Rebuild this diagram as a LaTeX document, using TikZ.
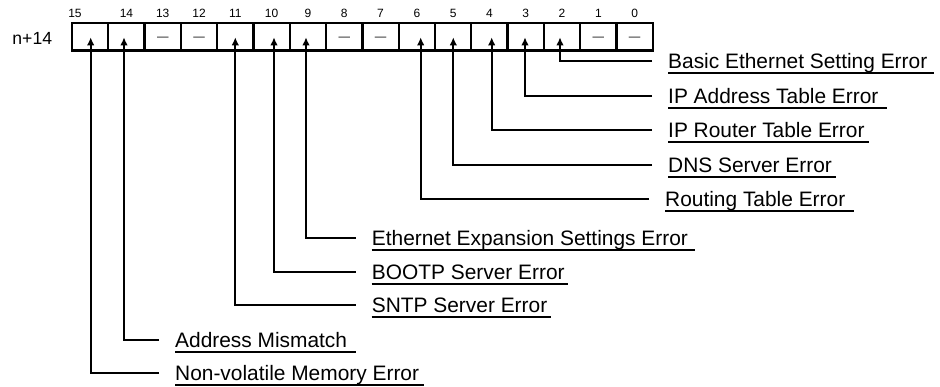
\documentclass[tikz,border=0pt]{standalone}
\usepackage{fontspec}
\setmainfont{Liberation Sans}
\usetikzlibrary{arrows.meta}
\begin{document}
\begin{tikzpicture}[x=1pt,y=-1pt,
  bitbox/.style={draw, line width=2.3pt, minimum width=36.3pt, minimum height=27.5pt, inner sep=0pt, outer sep=0pt},
  bitnum/.style={font=\fontsize{12}{14}\selectfont, inner sep=0pt, anchor=base},
  nodash/.style={font=\fontsize{11.5}{13}\selectfont, inner sep=0pt, anchor=center},
  reglab/.style={font=\fontsize{17.6}{20}\selectfont, inner sep=0pt, anchor=base east},
  lab/.style={font=\fontsize{20.9}{24}\selectfont, inner sep=0pt, anchor=base west},
  lead/.style={line width=1.8pt, -{Latex[length=8pt,width=7.5pt]}},
  uline/.style={line width=1.7pt}]
\useasboundingbox (0,0) rectangle (940,387);

% register label
\node[reglab] (reg) at (52.3,45) {n+14};

% bit boxes
\foreach \b in {15,...,0} {
  \pgfmathsetmacro\cx{72+36.3*(15-\b+0.5)}
  \node[bitbox] (b\b) at (\cx,36.75) {};
}
% bit numbers
\node[bitnum] (n15) at (75,18) {15};
\foreach \b in {14,...,0} {
  \path (b\b.center) ++(0,-18.75) node[bitnum] (n\b) {\b};
}
% unused bits
\foreach \b in {13,12,8,7,1,0} {
  \path (b\b.center) ++(0,2.5) node[nodash] (d\b) {—};
}

% labels and leaders
\foreach \b/\ax/\ly/\tx/\ue/\txt in {
  2/560/61/668/7/Basic Ethernet Setting Error,
  3/525/96/668/8/IP Address Table Error,
  4/491.7/130/668/4/IP Router Table Error,
  5/453.3/165/668/4/DNS Server Error,
  6/420.7/199/665/9/Routing Table Error,
  9/306/237.7/371.7/7/Ethernet Expansion Settings Error,
  10/274/271.7/371.7/3/BOOTP Server Error,
  11/235.3/305/371.7/4/SNTP Server Error,
  14/124/340/175/9/Address Mismatch,
  15/90.7/373.3/175/5/Non-volatile Memory Error} {
  \coordinate (t\b) at (\ax,37.3);
  \node[lab] (l\b) at (\tx,\ly+7.5) {\txt};
  \draw[lead] ([xshift=-16pt,yshift=7.5pt]l\b.base west) -| (t\b);
  \draw[uline] ([yshift=-4.5pt]l\b.base west) -- ([xshift=\ue pt,yshift=-4.5pt]l\b.base east);
}
\end{tikzpicture}
\end{document}
